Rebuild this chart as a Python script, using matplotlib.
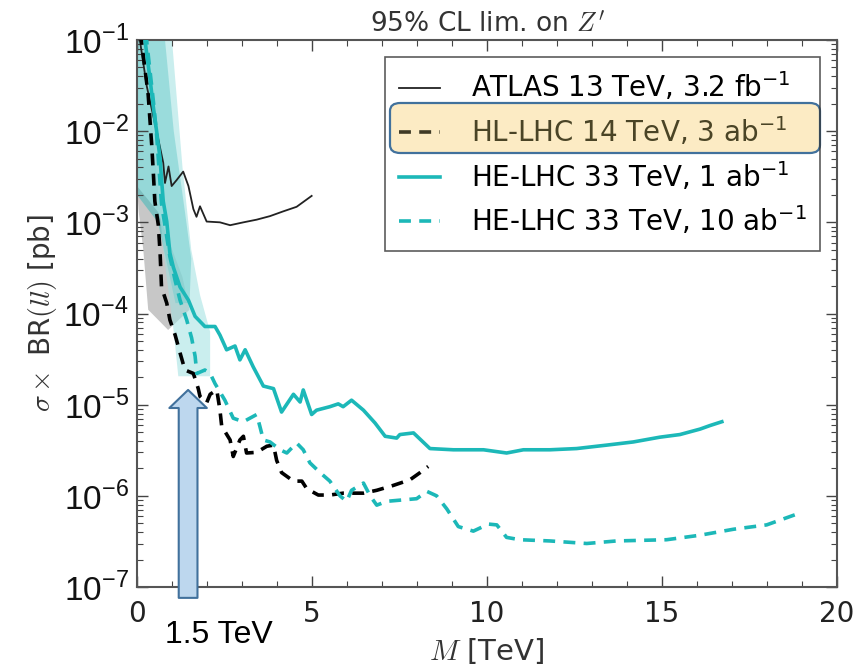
import matplotlib
matplotlib.use("Agg")
import matplotlib.pyplot as plt
import numpy as np
from matplotlib.patches import FancyBboxPatch, Polygon
from matplotlib.ticker import FixedLocator, LogLocator, NullFormatter, MultipleLocator

# --- data (M in TeV, sigma x BR in pb) ---
atlas_m = [0.05, 0.28, 0.56, 0.75, 0.80, 0.90, 0.99, 1.13, 1.32, 1.47, 1.61, 1.70, 1.80,
           1.99, 2.37, 2.66, 3.04, 3.42, 3.80, 4.18, 4.56, 4.99]
atlas_s = [1.2e-1, 3.1e-2, 1.0e-2, 4.5e-3, 2.7e-3, 4.1e-3, 2.5e-3, 2.9e-3, 3.6e-3, 2.5e-3,
           1.4e-3, 1.15e-3, 1.5e-3, 1.02e-3, 1.0e-3, 9.3e-4, 1.0e-3, 1.07e-3, 1.17e-3, 1.32e-3,
           1.48e-3, 1.95e-3]

hl_m = [0.10, 0.32, 0.42, 0.47, 0.51, 0.61, 0.66, 0.70, 0.85, 0.94, 1.09, 1.23, 1.37, 1.61,
        1.75, 1.80, 1.99, 2.09, 2.28, 2.37, 2.42, 2.66, 2.75, 2.94, 3.04, 3.13, 3.42, 3.71,
        3.90, 3.99, 4.13, 4.47, 4.71, 4.85, 5.18, 5.51, 5.89, 6.47, 6.85, 7.32, 7.80, 8.09, 8.32]
hl_s = [1.2e-1, 2.5e-2, 7.1e-3, 3.3e-3, 1.7e-3, 9.3e-4, 4.6e-4, 1.95e-4, 1.3e-4, 8.5e-5,
        5.8e-5, 3.7e-5, 2.4e-5, 2.2e-5, 1.5e-5, 1.23e-5, 1.05e-5, 1.3e-5, 1.45e-5, 8.7e-6,
        5.8e-6, 4.1e-6, 2.7e-6, 4.1e-6, 4.5e-6, 2.95e-6, 3.0e-6, 3.5e-6, 3.6e-6, 2.45e-6,
        1.8e-6, 1.45e-6, 1.45e-6, 1.2e-6, 1.02e-6, 1.02e-6, 1.07e-6, 1.07e-6, 1.15e-6, 1.3e-6,
        1.5e-6, 1.8e-6, 2.1e-6]

he1_m = [0.20, 0.37, 0.47, 0.56, 0.66, 0.70, 0.75, 0.85, 0.94, 1.04, 1.23, 1.47, 1.66, 1.94,
         2.23, 2.37, 2.56, 2.80, 2.94, 3.09, 3.32, 3.61, 3.90, 4.13, 4.47, 4.66, 4.75, 4.99,
         5.13, 5.51, 5.75, 5.89, 6.13, 6.47, 6.80, 7.09, 7.42, 7.51, 7.90, 8.37, 9.04, 9.90,
         10.56, 11.04, 11.80, 12.56, 13.42, 14.18, 14.94, 15.51, 16.09, 16.37, 16.71]
he1_s = [1.2e-1, 3.8e-2, 1.8e-2, 1.0e-2, 5.0e-3, 3.0e-3, 1.7e-3, 1.02e-3, 4.6e-4, 3.2e-4,
         1.95e-4, 1.4e-4, 9.3e-5, 7.2e-5, 7.2e-5, 5.8e-5, 4.0e-5, 4.4e-5, 3.1e-5, 4.0e-5,
         2.6e-5, 1.6e-5, 1.5e-5, 8.3e-6, 1.3e-5, 1.07e-5, 1.45e-5, 7.8e-6, 8.7e-6, 9.5e-6,
         1.02e-5, 9.5e-6, 1.12e-5, 8.7e-6, 6.3e-6, 4.5e-6, 4.3e-6, 4.7e-6, 4.9e-6, 3.3e-6,
         3.2e-6, 3.2e-6, 2.95e-6, 3.2e-6, 3.2e-6, 3.3e-6, 3.6e-6, 3.9e-6, 4.4e-6, 4.7e-6,
         5.4e-6, 5.9e-6, 6.5e-6]

he10_m = [0.25, 0.47, 0.56, 0.70, 0.94, 1.09, 1.23, 1.42, 1.56, 1.66, 1.71, 1.94, 2.09, 2.23,
          2.51, 2.75, 3.04, 3.42, 3.51, 3.61, 3.80, 4.09, 4.28, 4.56, 4.75, 4.94, 5.23, 5.51,
          5.80, 5.99, 6.13, 6.47, 6.66, 6.85, 7.13, 7.42, 7.99, 8.28, 8.56, 8.85, 9.18, 9.61,
          10.04, 10.28, 10.56, 10.94, 11.80, 12.85, 13.70, 15.13, 16.09, 17.04, 17.99, 18.85]
he10_s = [1.2e-1, 2.1e-2, 9.1e-3, 1.6e-3, 4.2e-4, 2.3e-4, 1.4e-4, 8.5e-5, 5.4e-5, 3.4e-5,
          2.2e-5, 2.4e-5, 2.2e-5, 1.7e-5, 1.12e-5, 7.1e-6, 6.5e-6, 7.8e-6, 5.8e-6, 4.1e-6,
          3.9e-6, 3.2e-6, 2.95e-6, 3.8e-6, 3.2e-6, 2.3e-6, 1.8e-6, 1.45e-6, 1.0e-6, 8.7e-7,
          1.15e-6, 1.38e-6, 1.0e-6, 7.9e-7, 8.7e-7, 8.9e-7, 9.3e-7, 1.12e-6, 1.0e-6, 7.2e-7,
          4.6e-7, 4.1e-7, 4.9e-7, 4.8e-7, 3.5e-7, 3.3e-7, 3.2e-7, 3.0e-7, 3.2e-7, 3.3e-7,
          3.7e-7, 4.3e-7, 4.8e-7, 6.3e-7]

# uncertainty bands (outline vertices)
gray_m = [0.0, 0.6, 1.3, 1.5, 0.89, 0.32, 0.18, 0.05, 0.0]
gray_s = [2.5e-3, 1.3e-3, 2.5e-4, 1.1e-4, 6.6e-5, 1.1e-4, 5.0e-4, 1.3e-3, 2.5e-3]
band1_m = [0.0, 0.8, 1.05, 1.37, 1.55, 1.5, 1.1, 0.6, 0.0]
band1_s = [1e-1, 1e-1, 1e-2, 1.3e-3, 4e-4, 1.3e-4, 1.3e-4, 1e-3, 2e-3]
band2_m = [0.3, 1.0, 1.3, 1.55, 1.8, 2.09, 2.09, 1.18, 1.05, 0.75, 0.45]
band2_s = [1e-1, 1e-1, 4e-3, 5e-4, 1.6e-4, 6.3e-5, 2.05e-5, 2.05e-5, 6.3e-5, 5e-4, 1e-2]

labels = ["ATLAS 13 TeV, 3.2 fb$^{-1}$", "HL-LHC 14 TeV, 3 ab$^{-1}$",
          "HE-LHC 33 TeV, 1 ab$^{-1}$", "HE-LHC 33 TeV, 10 ab$^{-1}$"]
y_decades = [1e-7, 1e-6, 1e-5, 1e-4, 1e-3, 1e-2, 1e-1]
y_ticklabels = ["$10^{-7}$", "$10^{-6}$", "$10^{-5}$", "$10^{-4}$", "$10^{-3}$",
                "$10^{-2}$", "$10^{-1}$"]

plt.rcParams["mathtext.fontset"] = "dejavusans"
plt.rcParams["font.family"] = "DejaVu Sans"
plt.rcParams["mathtext.rm"] = "Liberation Sans"

CYAN = "#1cb8b8"
DASH = (0, (3.3, 2.3))
W, H = 858, 670
fig = plt.figure(figsize=(W / 100, H / 100), dpi=100, facecolor="white")
ax = fig.add_axes([137 / W, 1 - 587 / H, 700 / W, 547 / H])
ax.set_facecolor("none")

ax.add_patch(Polygon(np.column_stack([gray_m, gray_s]), closed=True,
                     facecolor="#b9b9b9", edgecolor="none", alpha=0.8, zorder=1))
ax.add_patch(Polygon(np.column_stack([band2_m, band2_s]), closed=True,
                     facecolor="#9fe0e0", edgecolor="none", alpha=0.55, zorder=1.2))
ax.add_patch(Polygon(np.column_stack([band1_m, band1_s]), closed=True,
                     facecolor="#3fb9b9", edgecolor="none", alpha=0.55, zorder=1.1))

ax.plot(atlas_m, atlas_s, color="#222222", lw=1.3, label=labels[0], zorder=3)
ax.plot(hl_m, hl_s, color="black", lw=2.6, ls=DASH, label=labels[1], zorder=3)
ax.plot(he1_m, he1_s, color=CYAN, lw=2.6, label=labels[2], zorder=3)
ax.plot(he10_m, he10_s, color=CYAN, lw=2.6, ls=DASH, label=labels[3], zorder=3)

ax.set_yscale("log")
ax.set_xlim(0, 20)
ax.set_ylim(1e-7, 1e-1)

ax.xaxis.set_major_locator(MultipleLocator(5))
ax.xaxis.set_minor_locator(MultipleLocator(1))
ax.yaxis.set_major_locator(FixedLocator(y_decades))
ax.yaxis.set_minor_locator(LogLocator(base=10, subs=np.arange(2, 10)))
ax.yaxis.set_minor_formatter(NullFormatter())
ax.set_yticklabels(y_ticklabels)
for t in ax.get_yticklabels():
    t.set_fontfamily("Liberation Sans")
    t.set_math_fontfamily("custom")

ax.tick_params(which="both", direction="in", top=True, right=True, colors="#444444")
ax.tick_params(which="major", length=8, width=1)
ax.tick_params(which="minor", length=4, width=0.8)
ax.tick_params(axis="x", labelsize=20, pad=9, labelcolor="#222222")
ax.tick_params(axis="y", labelsize=24, pad=6, labelcolor="#111111")
for s in ax.spines.values():
    s.set_color("#555555")
    s.set_linewidth(1.5)

ax.set_xlabel("$M$ [TeV]", fontsize=21, math_fontfamily="cm", labelpad=6, color="#333333")
ax.set_ylabel(r"$\sigma\times$ BR$(ll)$ [pb]", fontsize=20, math_fontfamily="cm",
              labelpad=3, color="#333333")
ax.set_title("95% CL lim. on $Z'$", fontsize=19, math_fontfamily="cm", pad=6,
             color="#333333")

leg = ax.legend(loc="upper right", fontsize=20, frameon=True, fancybox=False,
                edgecolor="#333333", facecolor="none", framealpha=None,
                handlelength=1.5, handletextpad=1.1,
                labelspacing=0.42, borderaxespad=0.6, borderpad=0.5)
leg.get_frame().set_linewidth(1.2)
# entry under the highlight reads darker / olive in the reference
leg.get_texts()[1].set_color("#4a4426")
leg.legend_handles[1].set_color("#3f3a26")

# highlight box behind the HL-LHC legend entry (drawn below the axes)
hl_box = FancyBboxPatch((390 / W, 1 - 153 / H), 430 / W, 50 / H,
                        boxstyle="round,pad=0,rounding_size=0.012",
                        transform=fig.transFigure, facecolor="#fcebc4",
                        edgecolor="#41719c", linewidth=1.6, zorder=-1)
fig.patches.append(hl_box)

# arrow marking 1.5 TeV
ax.annotate("", xy=(1.46, 1.45e-5), xytext=(1.46, 7.6e-8), xycoords="data",
            textcoords="data", annotation_clip=False,
            arrowprops=dict(arrowstyle="simple,head_length=13,head_width=27,tail_width=13.5",
                            mutation_scale=1, facecolor="#bdd7ee", edgecolor="#41719c",
                            linewidth=1.5, shrinkA=0, shrinkB=0), zorder=6)
fig.text(165 / W, 1 - 635 / H, "1.5 TeV", fontsize=23, family="Liberation Sans",
         va="center", ha="left", color="black")

fig.savefig("out.png", dpi=100, facecolor="white")
